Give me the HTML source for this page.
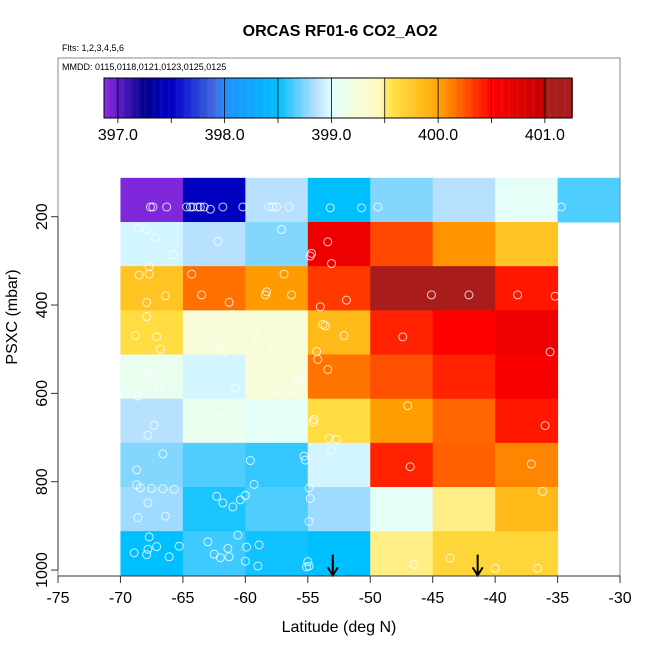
<!DOCTYPE html>
<html><head><meta charset="utf-8"><style>
html,body{margin:0;padding:0;background:#fff;}
svg{display:block;font-family:"Liberation Sans",sans-serif;}
</style></head><body>
<svg id="chart" width="650" height="650" viewBox="0 0 650 650" xmlns="http://www.w3.org/2000/svg">
<text x="340" y="36" text-anchor="middle" font-size="16" font-weight="bold">ORCAS RF01-6 CO2_AO2</text>
<text x="62" y="51" font-size="9">Flts: 1,2,3,4,5,6</text>
<g id="cells"></g>
<g id="pts"></g>
<g id="arrows"></g>
<rect x="58" y="58" width="562" height="518" fill="none" stroke="#888" stroke-width="1"/>
<text x="62" y="70" font-size="9">MMDD: 0115,0118,0121,0123,0125,0125</text>
<g id="cbar"></g>
<g id="xaxis"></g>
<g id="yaxis"></g>
<text x="339" y="632" text-anchor="middle" font-size="16">Latitude (deg N)</text>
<text transform="translate(17,317) rotate(-90)" text-anchor="middle" font-size="16">PSXC (mbar)</text>
</svg>
<script>
const latEdges = [-70,-65,-60,-55,-50,-45,-40,-35,-30];
const pEdges = [112,212,312,412,512,612,712,812,912,1012];
const row1 = [396.9,397.45,398.85,398.5,398.75,398.85,399.05,398.65];
const row2 = [398.95,398.85,398.75,400.65,400.28,400.05,399.78];
const row3 = [399.78,400.16,400.03,400.33,401.1,401.1,400.43];
const row4 = [399.6,399.25,399.25,399.85,400.4,400.5,400.65];
const row5 = [399.1,398.95,399.25,400.15,400.26,400.4,400.55];
const row6 = [398.85,399.1,399.05,399.6,400.02,400.19,400.43];
const row7 = [398.75,398.65,398.6,398.95,400.4,400.21,400.1];
const row8 = [398.8,398.55,398.65,398.8,399.05,399.5,399.85];
const row9 = [398.5,398.62,398.53,398.5,399.5,399.65,399.65];
const ptLat = [-67.6,-67.4,-66.3,-64.7,-64.4,-64.2,-63.8,-63.6,-63.3,-62.8,-61.8,-60.2,-58.1,-57.8,-57.5,-56.5,-53.2,-50.7,-49.4,-38.2,-37.0,-34.7,
-68.6,-67.9,-67.2,-65.8,-62.2,-57.1,-53.4,-54.7,-54.8,-53.1,
-67.7,-68.5,-67.7,-66.4,-67.9,-64.3,-63.5,-61.3,-56.9,-58.3,-58.4,-56.3,-51.9,-54.0,-45.1,-42.1,-38.2,-35.2,
-67.9,-68.8,-67.1,-66.8,-61.0,-62.3,-61.6,-59.3,-59.1,-57.7,-53.8,-53.6,-52.1,-54.3,-47.4,-35.6,
-68.3,-67.9,-54.2,-53.4,-55.6,-66.9,-68.6,-60.8,-57.4,-56.1,-55.8,
-47.0,-36.0,-67.3,-67.8,-62.0,-60.6,-58.5,-54.5,-54.6,-53.3,-52.7,-53.1,
-66.6,-68.7,-68.7,-68.4,-67.5,-66.6,-65.7,-59.6,-59.3,-55.3,-55.2,-54.9,-46.8,-37.1,-36.2,
-67.8,-68.6,-66.4,-62.3,-61.8,-61.0,-60.4,-60.0,-54.8,-54.9,
-67.7,-68.9,-67.9,-67.8,-67.1,-66.1,-65.3,-63.0,-62.5,-62.0,-61.4,-61.3,-60.6,-60.0,-59.9,-58.9,-59.0,-55.0,-55.1,-54.9,-46.5,-43.6,-40.0,-36.6];
const ptP = [178,178,178,178,178,178,178,178,178,183,178,178,178,178,178,178,180,180,178,178,178,178,
226,229,247,286,256,229,257,283,289,306,
313,332,330,379,394,330,377,394,330,370,377,377,389,404,377,377,377,380,
426,469,472,500,468,493,505,463,485,495,444,447,469,505,472,506,
555,551,523,546,567,588,606,588,591,595,570,
628,673,672,695,656,699,695,659,665,702,704,729,
737,773,807,814,815,816,817,752,806,742,751,814,766,760,822,
848,881,878,833,848,857,841,831,838,890,
925,961,965,953,947,970,946,936,964,972,951,970,921,980,948,943,991,981,993,991,987,973,996,996];
const arrowLat = [-53.0,-41.4];
const xTicks = [-75,-70,-65,-60,-55,-50,-45,-40,-35,-30];
const yTicks = [200,400,600,800,1000];
const cbTicks = [397.0,398.0,399.0,400.0,401.0];

const NS="http://www.w3.org/2000/svg";
const X = lat => 58 + (lat + 75) * 12.49;
const Y = p => 216.7 + (p - 200) * 0.4417;
const CB = v => 104 + (v - 396.87) * 106.75;
const stops = [[396.87,"#8a2be2"],[397.25,"#00008b"],[397.5,"#0000cd"],[397.9,"#4169e1"],[398.0,"#1e90ff"],[398.5,"#00bfff"],[398.85,"#b8e0ff"],[399.0,"#e0ffff"],[399.25,"#f8fcd8"],[399.45,"#fff8c0"],[399.55,"#ffe44a"],[400.0,"#ffa500"],[400.5,"#ff0000"],[401.0,"#c00000"]];
function hx(h){return [1,3,5].map(i=>parseInt(h.substr(i,2),16));}
function col(v){
  if(v>=401.0) return "#a81c1c";
  if(v<=stops[0][0]) return stops[0][1];
  for(let i=0;i<stops.length-1;i++){
    const [a,ca]=stops[i],[b,cb]=stops[i+1];
    if(v<=b){const t=(v-a)/(b-a);const A=hx(ca),B=hx(cb);
      return "rgb("+A.map((c,k)=>Math.round(c+(B[k]-c)*t)).join(",")+")";}
  }
  return stops[stops.length-1][1];
}
function mk(tag,attrs,parent){const e=document.createElementNS(NS,tag);for(const k in attrs)e.setAttribute(k,attrs[k]);parent.appendChild(e);return e;}

const rows=[row1,row2,row3,row4,row5,row6,row7,row8,row9];
const gc=document.getElementById("cells");
rows.forEach((r,ri)=>r.forEach((v,ci)=>{
  const x0=X(latEdges[ci]),x1=X(latEdges[ci+1]),y0=Y(pEdges[ri]),y1=Y(pEdges[ri+1]);
  const e=mk("rect",{x:x0,y:y0,width:x1-x0+0.5,height:y1-y0+0.5,fill:col(v)},gc);
  
  
}));
const gp=document.getElementById("pts");
ptLat.forEach((lat,i)=>{
  const e=mk("circle",{cx:X(lat),cy:Y(ptP[i]),r:4,fill:"none",stroke:"#fff","stroke-opacity":0.8,"stroke-width":1},gp);
  
  
});
const ga=document.getElementById("arrows");
arrowLat.forEach(lat=>{
  const x=X(lat),y0=Y(965),y1=Y(1012);
  const g=mk("g",{},ga);
  
  
  mk("line",{x1:x,y1:y0,x2:x,y2:y1-1,stroke:"#000","stroke-width":2},g);
  mk("path",{d:`M${x-5},${y1-8} L${x},${y1} L${x+5},${y1-8}`,fill:"none",stroke:"#000","stroke-width":2},g);
});
const gb=document.getElementById("cbar");
for(let v=396.87; v<401.25; v+=0.01){
  const e=mk("rect",{x:CB(v),y:78,width:1.3,height:40,fill:col(v)},gb);
  
  
}
for(let v=397.0; v<=401.01; v+=0.5){
  const x=CB(v);
  const e=mk("line",{x1:x,y1:78,x2:x,y2:123,stroke:"#000","stroke-width":0.8},gb);
  
  
}
mk("rect",{x:104,y:78,width:468,height:40,fill:"none",stroke:"#000","stroke-width":1},gb);
cbTicks.forEach(v=>{
  const t=mk("text",{x:CB(v),y:140,"text-anchor":"middle","font-size":16},gb);
  t.textContent=v.toFixed(1);
  
  
});
const gx=document.getElementById("xaxis");
mk("line",{x1:X(-75),y1:576,x2:X(-30),y2:576,stroke:"#333","stroke-width":1},gx);
xTicks.forEach(v=>{
  mk("line",{x1:X(v),y1:576,x2:X(v),y2:583,stroke:"#333"},gx);
  const t=mk("text",{x:X(v),y:603,"text-anchor":"middle","font-size":16},gx);
  t.textContent=v;
  
  
});
const gy=document.getElementById("yaxis");
mk("line",{x1:58,y1:Y(200),x2:58,y2:Y(1000),stroke:"#333","stroke-width":1},gy);
yTicks.forEach(v=>{
  mk("line",{x1:51,y1:Y(v),x2:58,y2:Y(v),stroke:"#333"},gy);
  const t=mk("text",{transform:`translate(47,${Y(v)}) rotate(-90)`,"text-anchor":"middle","font-size":16},gy);
  t.textContent=v;
  
  
});
</script>
</body></html>
